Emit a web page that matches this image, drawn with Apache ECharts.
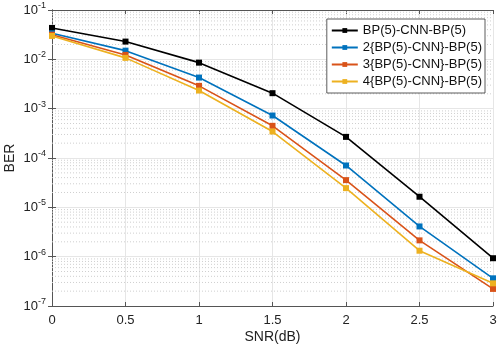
<!DOCTYPE html>
<html>
<head>
<meta charset="utf-8">
<script src="https://cdn.jsdelivr.net/npm/echarts@6/dist/echarts.min.js"></script>
<style>
  html, body { margin: 0; padding: 0; background: #fff; }
  #main { width: 498px; height: 350px; }
</style>
</head>
<body>
<div id="main"></div>
<script>
// SNR points
const snr = [0, 0.5, 1, 1.5, 2, 2.5, 3];

const names = [
    'BP(5)-CNN-BP(5)',
    '2{BP(5)-CNN}-BP(5)',
    '3{BP(5)-CNN}-BP(5)',
    '4{BP(5)-CNN}-BP(5)'
];

// BER values
const ber1 = [0.0433, 0.0229, 0.00857, 0.00206, 2.68e-4, 1.64e-5, 9.3e-7];
const ber2 = [0.0337, 0.0150, 0.00427, 7.26e-4, 7.05e-5, 4.1e-6, 3.64e-7];
const ber3 = [0.0316, 0.0123, 0.0029, 4.49e-4, 3.56e-5, 2.14e-6, 2.22e-7];
const ber4 = [0.0298, 0.0107, 0.00233, 3.44e-4, 2.45e-5, 1.32e-6, 2.88e-7];

const colors = ['#000000', '#0072BD', '#D95319', '#EDB120'];

// minor grid levels 2..9 x 10^k
let minorLevels = [];
for (let k = -7; k < -1; k++) {
    for (let m = 2; m <= 9; m++) {
        minorLevels.push(m * Math.pow(10, k));
    }
}

var chart = echarts.init(document.getElementById('main'));

function pair(ys) {
    return ys.map((v, i) => [snr[i], v]);
}

let allData = [ber1, ber2, ber3, ber4];

// dotted minor grid, one thin line series per level
let seriesList = minorLevels.map(v => ({
    type: 'line',
    data: [[snr[0], v], [snr[snr.length - 1], v]],
    symbol: 'none',
    silent: true,
    lineStyle: { color: '#cfcfcf', type: [1, 2], width: 1 },
    z: 1
}));

allData.forEach((d, i) => {
    seriesList.push({
        name: names[i],
        type: 'line',
        data: pair(d),
        symbol: 'rect',
        symbolSize: 6,
        lineStyle: { width: 1.6, color: colors[i] },
        itemStyle: { color: colors[i] },
        z: 10 + i
    });
});

const tickFont = 'Liberation Sans, Arial, sans-serif';

var option = {
    animation: false,
    textStyle: { fontFamily: tickFont },
    grid: { left: 52, right: 5, top: 10, bottom: 44, containLabel: false, outerBoundsMode: 'none' },
    legend: {
        data: names,
        orient: 'vertical',
        right: 13,
        top: 19,
        itemWidth: 26,
        itemHeight: 6,
        itemGap: 4,
        padding: [5, 3, 5, 4],
        backgroundColor: '#ffffff',
        borderColor: '#333333',
        borderWidth: 0.8,
        borderRadius: 0,
        textStyle: { fontSize: 13, color: '#111', fontFamily: tickFont }
    },
    xAxis: [{
        type: 'value',
        min: 0,
        max: 3,
        interval: 0.5,
        name: 'SNR(dB)',
        nameLocation: 'middle',
        nameGap: 24,
        nameMoveOverlap: false,
        nameTextStyle: { fontSize: 14, color: '#222' },
        axisLine: { lineStyle: { color: '#555' } },
        axisTick: { inside: true, length: 4, lineStyle: { color: '#555' } },
        axisLabel: { fontSize: 13, color: '#222', margin: 8 },
        splitLine: { show: true, lineStyle: { color: '#e6e6e6' } }
    }, {
        type: 'value',
        position: 'top',
        min: 0,
        max: 3,
        interval: 0.5,
        axisLine: { lineStyle: { color: '#555' } },
        axisTick: { inside: true, length: 4, lineStyle: { color: '#555' } },
        axisLabel: { show: false },
        splitLine: { show: false }
    }],
    yAxis: [{
        type: 'log',
        logBase: 10,
        min: 1e-7,
        max: 1e-1,
        name: 'BER',
        nameLocation: 'middle',
        nameGap: 35,
        nameMoveOverlap: false,
        nameTextStyle: { fontSize: 14, color: '#222' },
        axisLine: { lineStyle: { color: '#555' } },
        axisTick: { inside: true, length: 4, lineStyle: { color: '#555' } },
        axisLabel: {
            margin: 6,
            formatter: function (v) {
                let e = Math.round(Math.log10(v));
                return '{b|10}{s|' + e + '}';
            },
            rich: {
                b: { fontSize: 13, color: '#222', fontFamily: tickFont },
                s: { fontSize: 9, color: '#222', fontFamily: tickFont, verticalAlign: 'bottom', padding: [0, 0, 9, 0] }
            }
        },
        splitLine: { show: true, lineStyle: { color: '#e6e6e6' } }
    }, {
        type: 'log',
        logBase: 10,
        position: 'right',
        min: 1e-7,
        max: 1e-1,
        axisLine: { show: true, lineStyle: { color: '#555' } },
        axisTick: { inside: true, length: 4, lineStyle: { color: '#555' } },
        axisLabel: { show: false },
        splitLine: { show: false }
    }],
    series: seriesList
};

chart.setOption(option);
</script>
</body>
</html>
